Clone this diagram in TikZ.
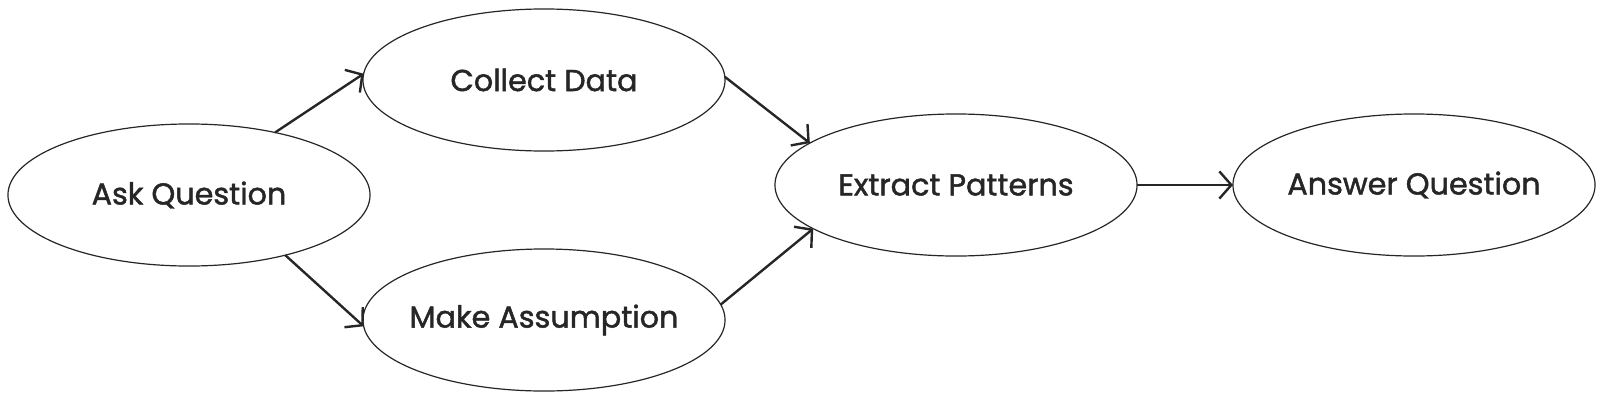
\documentclass[tikz,border=0pt]{standalone}
\usepackage{fontspec}
\setmainfont{Poppins}[FakeBold=1.5]
\usetikzlibrary{arrows.meta,shapes.geometric}
\tikzset{
  stage/.style={ellipse, draw=black!85, line width=0.3mm, fill=white,
    minimum width=9.05cm, minimum height=3.55cm, inner xsep=-0.5cm, inner ysep=0pt,
    outer sep=0pt, text=black!85, font=\fontsize{21.5}{26}\selectfont},
  flow/.style={draw=black!85, line width=0.6mm, -{Straight Barb[length=3mm,width=6.8mm,line width=0.6mm]}}
}
\begin{document}
\begin{tikzpicture}[x=0.025cm, y=-0.025cm]
			%%%%% START %%%%%
			
			\useasboundingbox (0, 0) rectangle (1600, 402);
			
			\node[stage] (ask) at (189, 195) {Ask Question};
			\node[stage] (collect) at (544, 80) {Collect Data};
			\node[stage] (assume) at (544, 320) {Make Assumption};
			\node[stage] (extract) at (956, 185) {Extract Patterns};
			\node[stage] (answer) at (1414, 185) {Answer Question};
			
			\draw[flow] (ask.36) -- (collect.178);
			\draw[flow] (ask.-32) -- (assume.182);
			\draw[flow] (collect.1) -- (extract.164);
			\draw[flow] (assume.5) -- (extract.197);
			\draw[flow] (extract.east) -- (answer.west);
			
			%%%%% END %%%%%
\end{tikzpicture}
\end{document}
